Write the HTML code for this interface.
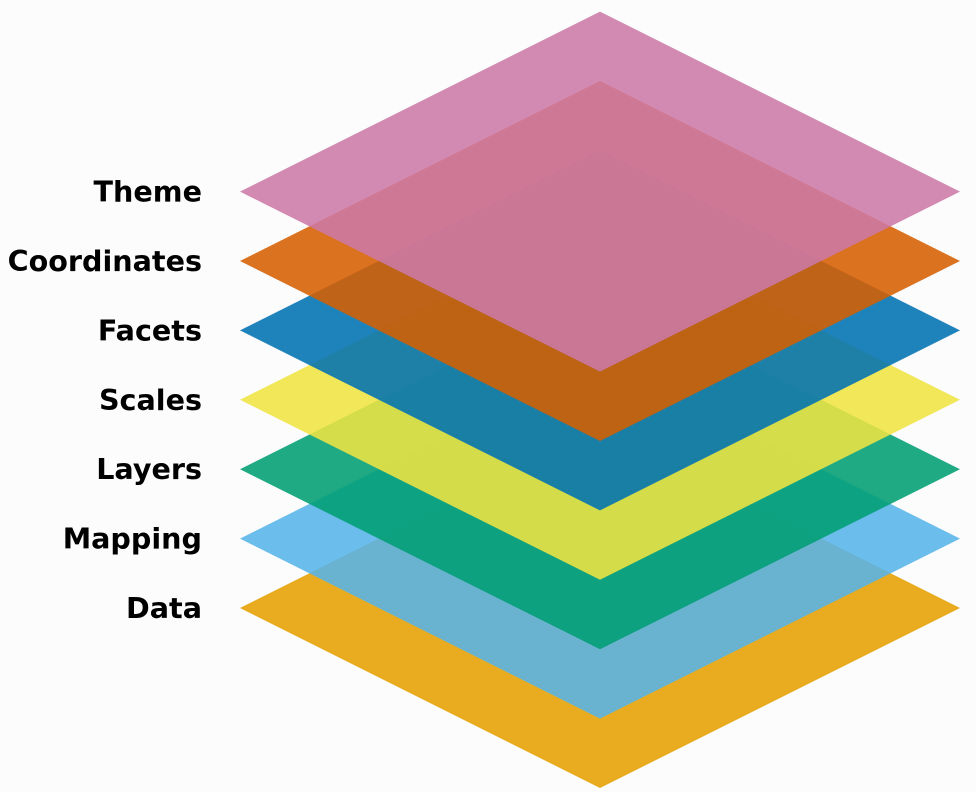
<!DOCTYPE html>
<html><head><meta charset="utf-8">
<style>
html,body{margin:0;padding:0;background:#fcfcfc;}
svg{display:block;}
text{font-family:"DejaVu Sans","Liberation Sans",sans-serif;font-weight:bold;font-size:28.6px;fill:#000;}
</style></head>
<body>
<svg id="chart" width="976" height="792" viewBox="0 0 976 792" xmlns="http://www.w3.org/2000/svg">
<rect width="976" height="792" fill="#fcfcfc"/>
</svg>
<script>
const layerNames = ["Data","Mapping","Layers","Scales","Facets","Coordinates","Theme"];
const layerLevels = [0,1,2,3,4,5,6];
const layerColors = ["#E69F00","#56B4E9","#009E73","#F0E442","#0072B2","#D55E00","#CC79A7"];

const svg = document.getElementById('chart');
const NS = "http://www.w3.org/2000/svg";
const baseY = 608, step = 69.4, cx = 600, halfW = 360, halfH = 180;
function yPos(level){ return baseY - level*step; }

layerNames.forEach((name,i)=>{
  const y = yPos(layerLevels[i]);
  const p = document.createElementNS(NS,'polygon');
  p.setAttribute('points', `${cx-halfW},${y} ${cx},${y-halfH} ${cx+halfW},${y} ${cx},${y+halfH}`);
  p.setAttribute('fill', layerColors[i]);
  p.setAttribute('fill-opacity', '0.88');
  
  
  svg.appendChild(p);
  const t = document.createElementNS(NS,'text');
  t.setAttribute('x', 202);
  t.setAttribute('y', y + 10);
  t.setAttribute('text-anchor', 'end');
  t.textContent = name;
  
  
  svg.appendChild(t);
});
</script>
</body></html>
